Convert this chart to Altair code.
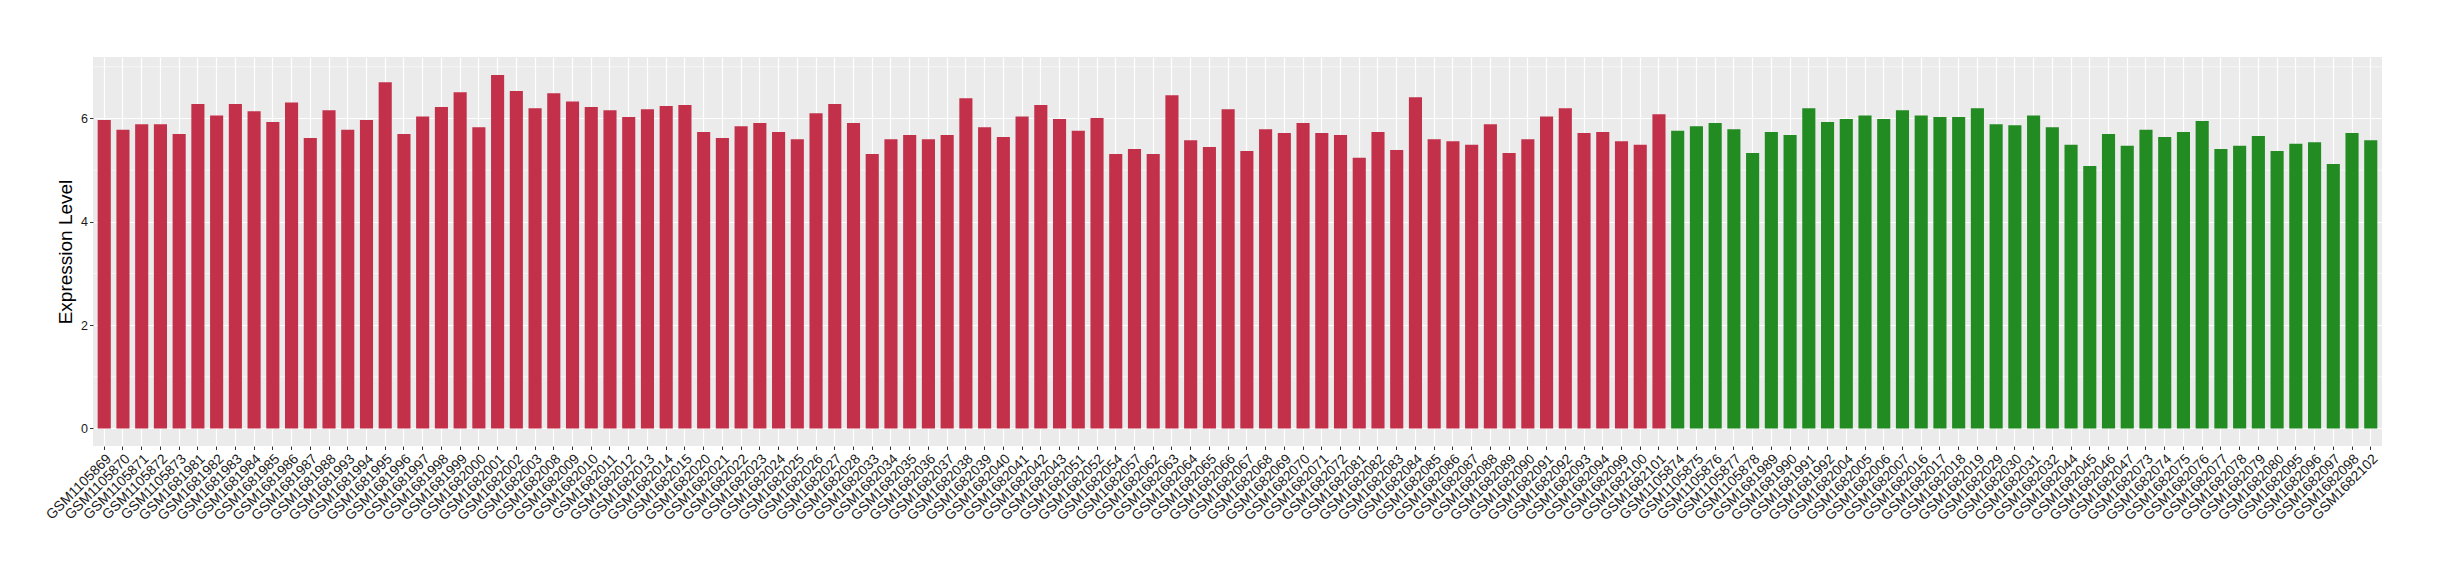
import altair as alt
import pandas as pd

red_samples = [
    "GSM1105869", "GSM1105870", "GSM1105871", "GSM1105872", "GSM1105873",
    "GSM1681981", "GSM1681982", "GSM1681983", "GSM1681984", "GSM1681985",
    "GSM1681986", "GSM1681987", "GSM1681988", "GSM1681993", "GSM1681994",
    "GSM1681995", "GSM1681996", "GSM1681997", "GSM1681998", "GSM1681999",
    "GSM1682000", "GSM1682001", "GSM1682002", "GSM1682003", "GSM1682008",
    "GSM1682009", "GSM1682010", "GSM1682011", "GSM1682012", "GSM1682013",
    "GSM1682014", "GSM1682015", "GSM1682020", "GSM1682021", "GSM1682022",
    "GSM1682023", "GSM1682024", "GSM1682025", "GSM1682026", "GSM1682027",
    "GSM1682028", "GSM1682033", "GSM1682034", "GSM1682035", "GSM1682036",
    "GSM1682037", "GSM1682038", "GSM1682039", "GSM1682040", "GSM1682041",
    "GSM1682042", "GSM1682043", "GSM1682051", "GSM1682052", "GSM1682054",
    "GSM1682057", "GSM1682062", "GSM1682063", "GSM1682064", "GSM1682065",
    "GSM1682066", "GSM1682067", "GSM1682068", "GSM1682069", "GSM1682070",
    "GSM1682071", "GSM1682072", "GSM1682081", "GSM1682082", "GSM1682083",
    "GSM1682084", "GSM1682085", "GSM1682086", "GSM1682087", "GSM1682088",
    "GSM1682089", "GSM1682090", "GSM1682091", "GSM1682092", "GSM1682093",
    "GSM1682094", "GSM1682099", "GSM1682100", "GSM1682101",
]
red_values = [
    5.97, 5.78, 5.89, 5.89, 5.70, 6.28, 6.06, 6.28, 6.14, 5.93,
    6.31, 5.62, 6.16, 5.78, 5.97, 6.70, 5.70, 6.04, 6.22, 6.51,
    5.83, 6.84, 6.53, 6.20, 6.49, 6.33, 6.22, 6.16, 6.03, 6.18,
    6.24, 6.26, 5.74, 5.62, 5.85, 5.91, 5.74, 5.60, 6.10, 6.28,
    5.91, 5.31, 5.60, 5.68, 5.60, 5.68, 6.39, 5.83, 5.64, 6.04,
    6.26, 5.99, 5.76, 6.01, 5.31, 5.41, 5.31, 6.45, 5.58, 5.45,
    6.18, 5.37, 5.79, 5.72, 5.91, 5.72, 5.68, 5.24, 5.74, 5.39,
    6.41, 5.60, 5.56, 5.49, 5.89, 5.33, 5.60, 6.04, 6.20, 5.72,
    5.74, 5.56, 5.49, 6.08,
]
green_samples = [
    "GSM1105874", "GSM1105875", "GSM1105876", "GSM1105877", "GSM1105878",
    "GSM1681989", "GSM1681990", "GSM1681991", "GSM1681992", "GSM1682004",
    "GSM1682005", "GSM1682006", "GSM1682007", "GSM1682016", "GSM1682017",
    "GSM1682018", "GSM1682019", "GSM1682029", "GSM1682030", "GSM1682031",
    "GSM1682032", "GSM1682044", "GSM1682045", "GSM1682046", "GSM1682047",
    "GSM1682073", "GSM1682074", "GSM1682075", "GSM1682076", "GSM1682077",
    "GSM1682078", "GSM1682079", "GSM1682080", "GSM1682095", "GSM1682096",
    "GSM1682097", "GSM1682098", "GSM1682102",
]
green_values = [
    5.76, 5.85, 5.91, 5.79, 5.33, 5.74, 5.68, 6.20, 5.93, 5.99,
    6.06, 5.99, 6.16, 6.06, 6.03, 6.03, 6.20, 5.89, 5.87, 6.06,
    5.83, 5.49, 5.08, 5.70, 5.47, 5.78, 5.64, 5.74, 5.95, 5.41,
    5.47, 5.66, 5.37, 5.51, 5.54, 5.12, 5.72, 5.58,
]
group_names = ["group1", "group2"]
group_colors = ["#C3304A", "#228B22"]
y_ticks = [0, 2, 4, 6]
y_minor = [1, 3, 5, 7]

samples = red_samples + green_samples
df = pd.DataFrame({
    "sample": samples,
    "value": red_values + green_values,
    "group": [group_names[0]] * len(red_samples) + [group_names[1]] * len(green_samples),
})
minor_df = pd.DataFrame({"y": y_minor})

FONT = "Liberation Sans"
ydom = [-0.34, 7.19]

yscale = alt.Scale(domain=ydom, nice=False, zero=False)

minor = alt.Chart(minor_df).mark_rule(color="white", strokeWidth=0.6).encode(
    y=alt.Y("y:Q", scale=yscale)
)

bars = alt.Chart(df).mark_bar().encode(
    x=alt.X(
        "sample:N",
        sort=samples,
        scale=alt.Scale(paddingInner=0.3, paddingOuter=0.25),
        axis=alt.Axis(
            title=None, labelAngle=-45, labelAlign="right", labelBaseline="top",
            labelFontSize=14, labelFont=FONT, labelColor="#1a1a1a",
            labelOverlap=False, labelLimit=0, labelPadding=2,
            tickSize=3.5, tickColor="#333333", tickWidth=1, domain=False,
            grid=True, gridColor="white", gridWidth=1.2, bandPosition=0.5,
        ),
    ),
    y=alt.Y(
        "value:Q",
        scale=yscale,
        axis=alt.Axis(
            title="Expression Level", values=y_ticks, format="d",
            labelFontSize=12.5, labelFont=FONT, labelColor="#1a1a1a", labelPadding=2,
            tickSize=3.5, tickColor="#333333", domain=False,
            grid=True, gridColor="white", gridWidth=1.2,
            titleFont=FONT, titleFontSize=19, titleFontWeight="normal",
            titleColor="black", titleX=-28, titleY=194.5, titleAngle=-90,
            titleAlign="center", titleBaseline="middle",
        ),
    ),
    y2=alt.datum(0),
    color=alt.Color("group:N", scale=alt.Scale(domain=group_names, range=group_colors), legend=None),
)

chart = alt.layer(minor, bars).properties(
    width=2289, height=389,
    autosize=alt.AutoSizeParams(type="none"),
    padding={"left": 85, "top": 49, "right": 50, "bottom": 126},
).configure(
    background="white",
    view=alt.ViewConfig(fill="#EBEBEB", stroke=None),
)

chart.save("out.html", embed_options={"renderer": "svg", "actions": False})
